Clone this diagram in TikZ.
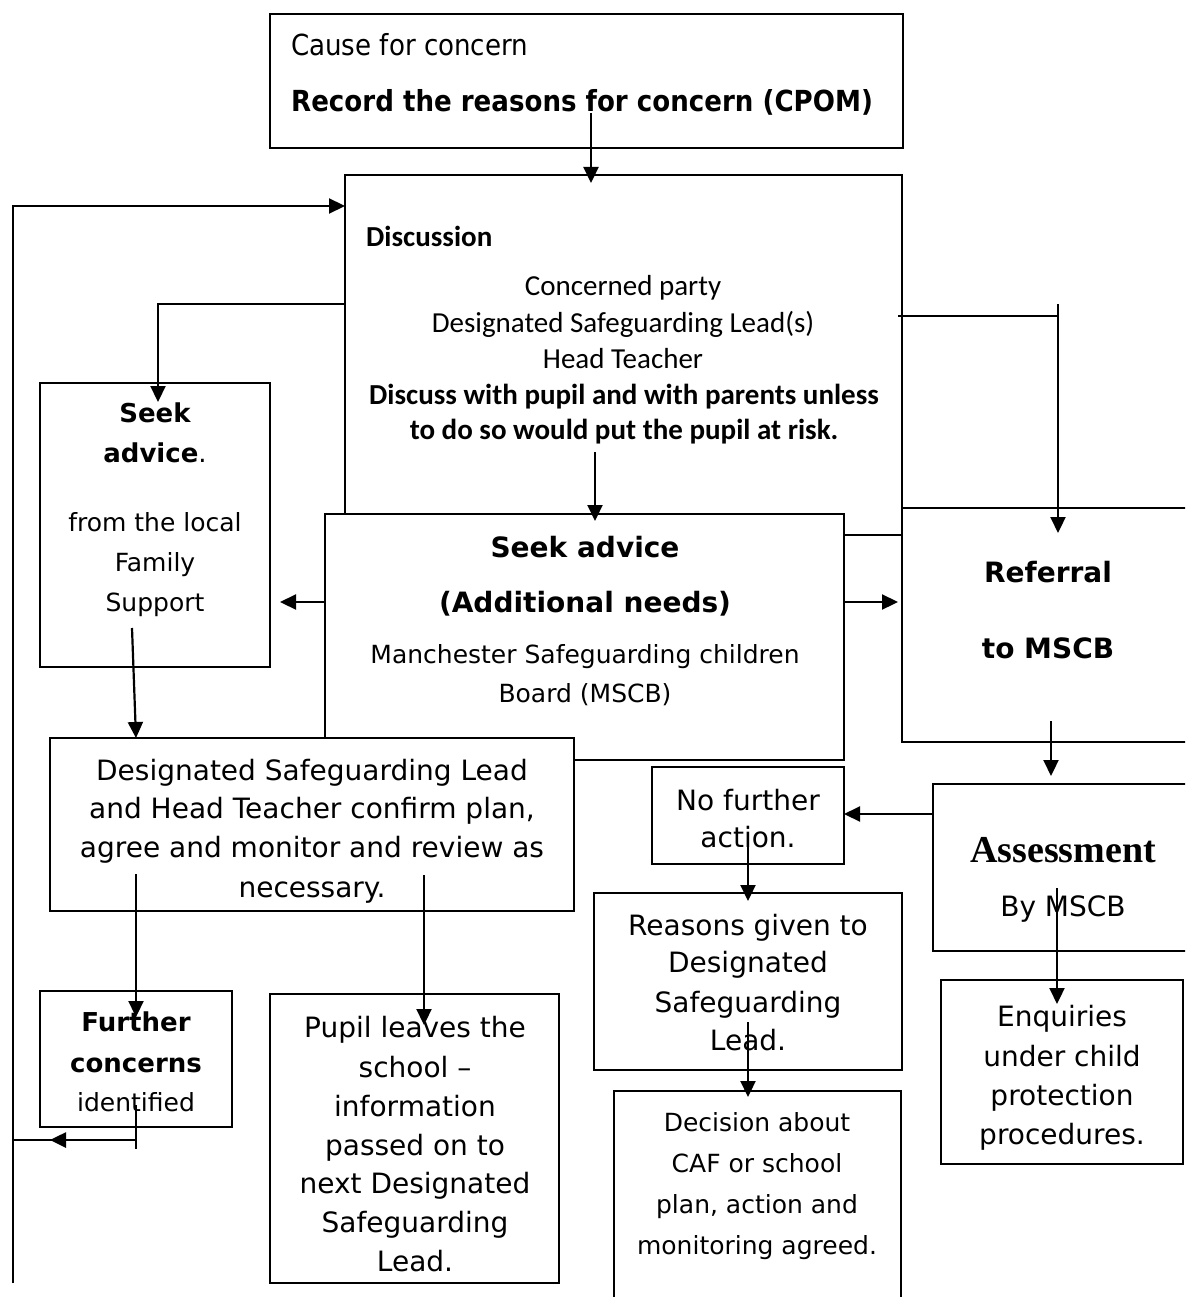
\documentclass[tikz,border=0pt]{standalone}
\usepackage{fontspec}
\setmainfont{DejaVu Sans}
\newfontfamily\tahfont[FakeStretch=0.9]{DejaVu Sans}
\newfontfamily\calfont{Carlito}
\newfontfamily\serfont{Liberation Serif}
\usetikzlibrary{arrows.meta,calc}
\begin{document}
\begin{tikzpicture}[x=1pt,y=-1pt,
  box/.style={draw, line width=2.2pt, inner sep=0pt, outer sep=0pt, fill=white},
  arr/.style={line width=2.2pt, -{Triangle[length=16pt,width=15pt]}},
  plain/.style={line width=2.2pt},
  thinl/.style={line width=1.5pt},
  tahN/.style={inner sep=0pt, text height=21pt, text depth=0pt, font=\tahfont\fontsize{29}{34}\selectfont},
  tahB/.style={tahN, font=\tahfont\bfseries\fontsize{29}{34}\selectfont},
  calN/.style={inner sep=0pt, text height=18.5pt, text depth=0pt, font=\calfont\fontsize{29}{34}\selectfont},
  calB/.style={calN, font=\calfont\bfseries\fontsize{29}{34}\selectfont},
  vN/.style={inner sep=0pt, text height=20.4pt, text depth=0pt, font=\fontsize{28}{34}\selectfont},
  vB/.style={vN, font=\bfseries\fontsize{28}{34}\selectfont},
  vsN/.style={inner sep=0pt, text height=18.2pt, text depth=0pt, font=\fontsize{25}{30}\selectfont},
  vsB/.style={inner sep=0pt, text height=19pt, text depth=0pt, font=\bfseries\fontsize{26}{30}\selectfont},
  serB/.style={inner sep=0pt, text height=25pt, text depth=0pt, font=\serfont\bfseries\fontsize{38}{44}\selectfont}
]
\fill[white] (0,0) rectangle (1185,1297);
\useasboundingbox (0,0) rectangle (1185,1297);
\clip (0,0) rectangle (1185,1297);

% boxes
\node[box, minimum width=633pt, minimum height=134pt] (top) at (586.5,81) {};
\node[box, minimum width=557pt, minimum height=360pt] (disc) at (623.5,355) {};
\node[box, minimum width=230pt, minimum height=284pt] (sadvL) at (155,525) {};
\node[box, minimum width=519pt, minimum height=246pt] (sadvM) at (584.5,637) {};
\node[box, minimum width=292pt, minimum height=234pt] (referral) at (1048,625) {};
\node[box, minimum width=524pt, minimum height=173pt] (dsl) at (312,824.5) {};
\node[box, minimum width=192pt, minimum height=97pt] (nofurther) at (748,815.5) {};
\node[box, minimum width=261pt, minimum height=167pt] (assess) at (1063.5,867.5) {};
\node[box, minimum width=308pt, minimum height=177pt] (reasons) at (748,981.5) {};
\node[box, minimum width=287pt, minimum height=229pt] (decision) at (757.5,1205.5) {};
\node[box, minimum width=242pt, minimum height=184pt] (enquiries) at (1062,1072) {};
\node[box, minimum width=192pt, minimum height=136pt] (further) at (136,1059) {};
\node[box, minimum width=289pt, minimum height=289pt] (pupil) at (414.5,1138.5) {};

% texts
\node[tahN, anchor=west] (t0a) at (291,45) {Cause for concern};
\node[tahB, anchor=west] (t0b) at (291,101) {Record the reasons for concern (CPOM)};

\node[calB, anchor=west] (t1a) at (366,237) {Discussion};
\node[calN] (t1b) at (623,286) {Concerned party};
\node[calN] (t1c) at (623,323) {Designated Safeguarding Lead(s)};
\node[calN] (t1d) at (623,359) {Head Teacher};
\node[calB] (t1e) at (624,395) {Discuss with pupil and with parents unless};
\node[calB] (t1f) at (624,430) {to do so would put the pupil at risk.};

\node[vsB] (t2a) at (155,413) {Seek};
\node[vsB] (t2b) at (155,453) {advice\mdseries.};
\node[vsN] (t2c) at (155,522) {from the local};
\node[vsN] (t2d) at (155,562) {Family};
\node[vsN] (t2e) at (155,602) {Support};

\node[vB] (t3a) at (585,547) {Seek advice};
\node[vB] (t3b) at (585,602) {(Additional needs)};
\node[vsN] (t3c) at (585,654) {Manchester Safeguarding children};
\node[vsN] (t3d) at (585,693) {Board (MSCB)};

\node[vB] (t4a) at (1048,572) {Referral};
\node[vB] (t4b) at (1048,648) {to MSCB};

\node[vN] (t5a) at (312,770) {Designated Safeguarding Lead};
\node[vN] (t5b) at (312,808) {and Head Teacher confirm plan,};
\node[vN] (t5c) at (312,847) {agree and monitor and review as};
\node[vN] (t5d) at (312,887) {necessary.};

\node[vN] (t6a) at (748,800) {No further};
\node[vN] (t6b) at (748,837) {action.};

\node[serB] (t7a) at (1063,850) {Assessment};
\node[vN] (t7b) at (1063,906) {By MSCB};

\node[vN] (t8a) at (748,925) {Reasons given to};
\node[vN] (t8b) at (748,962) {Designated};
\node[vN] (t8c) at (748,1002) {Safeguarding};
\node[vN] (t8d) at (748,1040) {Lead.};

\node[vsN] (t9a) at (757,1122) {Decision about};
\node[vsN] (t9b) at (757,1163) {CAF or school};
\node[vsN] (t9c) at (757,1204) {plan, action and};
\node[vsN] (t9d) at (757,1245) {monitoring agreed.};

\node[vN] (t10a) at (1062,1016) {Enquiries};
\node[vN] (t10b) at (1062,1056) {under child};
\node[vN] (t10c) at (1062,1095) {protection};
\node[vN] (t10d) at (1062,1134) {procedures.};

\node[vsB] (t11a) at (136,1022) {Further};
\node[vsB] (t11b) at (136,1063) {concerns};
\node[vsN] (t11c) at (136,1102) {identified};

\node[vN] (t12a) at (415,1027) {Pupil leaves the};
\node[vN] (t12b) at (415,1067) {school –};
\node[vN] (t12c) at (415,1106) {information};
\node[vN] (t12d) at (415,1145) {passed on to};
\node[vN] (t12e) at (415,1183) {next Designated};
\node[vN] (t12f) at (415,1222) {Safeguarding};
\node[vN] (t12g) at (415,1261) {Lead.};

% connectors
\coordinate (a1) at (591,113);
\draw[arr, shorten >=-8pt] (a1) -- (a1 |- disc.north);

\coordinate (lpS) at (13,1283);
\coordinate (lpY) at (0,206);
\draw[arr] (lpS) |- (disc.west |- lpY);

\coordinate (a3y) at (0,304);
\coordinate (a3x) at (158,0);
\draw[arr, shorten >=-19pt] (disc.west |- a3y) -| (a3x |- sadvL.north);

\coordinate (a4) at (595,452);
\draw[arr, shorten >=-7pt] (a4) -- (a4 |- sadvM.north);

\coordinate (a5y) at (0,602);
\draw[arr, shorten >=10pt] (sadvM.west |- a5y) -- (sadvL.east |- a5y);
\draw[arr, shorten >=4pt] (sadvM.east |- a5y) -- (referral.west |- a5y);

\coordinate (a7) at (132,628);
\draw[arr] (a7) -- ([xshift=-176pt]dsl.north);

\coordinate (a8y) at (0,316);
\coordinate (a8t) at (1058,304);
\draw[plain, shorten <=-4pt] (disc.east |- a8y) -- (a8t |- a8y);
\draw[arr, shorten >=-25pt] (a8t) -- (a8t |- referral.north);

\coordinate (a10) at (1051,721);
\draw[arr, shorten >=8pt] (a10) -- (a10 |- assess.north);

\coordinate (a11y) at (0,814);
\draw[arr] (assess.west |- a11y) -- (nofurther.east |- a11y);

\coordinate (a12) at (748,840);
\draw[arr, shorten >=-8pt] (a12) -- (a12 |- reasons.north);

\coordinate (a13) at (748,1022);
\draw[arr, shorten >=-6pt] (a13) -- (a13 |- decision.north);

\coordinate (a14) at (1057,888);
\draw[arr, shorten >=-24pt] (a14) -- (a14 |- enquiries.north);

\coordinate (a15) at (136,874);
\draw[arr, shorten >=-26pt] (a15) -- (a15 |- further.north);

\coordinate (a16) at (424,875);
\draw[arr, shorten >=-31pt] (a16) -- (a16 |- pupil.north);

\coordinate (a17) at (136,1105);
\coordinate (a17b) at (136,1149);
\draw[thinl] (a17) -- (a17b);
\coordinate (a18y) at (0,1140);
\draw[thinl] (a17 |- a18y) -- (lpS |- a18y);
\coordinate (a18s) at (110,1140);
\coordinate (a18e) at (50,1140);
\draw[arr, line width=2.6pt] (a18s) -- (a18e);
\end{tikzpicture}
\end{document}
